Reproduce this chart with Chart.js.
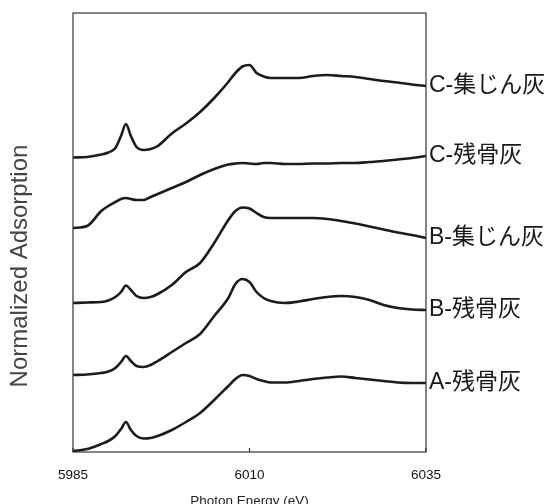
<!DOCTYPE html>
<html lang="ja">
<head>
<meta charset="UTF-8">
<title>XANES</title>
<script src="https://cdn.jsdelivr.net/npm/chart.js"></script>
<style>
  html, body { margin: 0; padding: 0; background: #fff; }
  #wrap { width: 551px; height: 504px; }
</style>
</head>
<body>
<div id="wrap"><canvas id="grafico"></canvas></div>
<script>
// energia (eV)
const energy = [5985, 5987, 5989, 5990, 5991, 5991.8, 5992.5, 5993.2, 5994, 5995, 5996, 5997, 5999, 6001, 6003, 6005, 6007, 6008, 6009, 6010, 6011, 6012, 6013, 6015, 6017, 6019, 6021, 6023, 6025, 6027, 6029, 6031, 6033, 6035];

// espectros com deslocamento vertical (unidades arbitrárias)
const cDust = [2.945, 2.95, 2.975, 2.995, 3.04, 3.16, 3.28, 3.16, 3.05, 3.02, 3.03, 3.06, 3.185, 3.285, 3.40, 3.54, 3.70, 3.79, 3.855, 3.87, 3.79, 3.755, 3.74, 3.74, 3.74, 3.76, 3.77, 3.76, 3.75, 3.73, 3.71, 3.695, 3.675, 3.66];
const cBone = [2.24, 2.26, 2.41, 2.46, 2.50, 2.53, 2.54, 2.53, 2.52, 2.52, 2.55, 2.58, 2.64, 2.70, 2.77, 2.83, 2.875, 2.885, 2.89, 2.885, 2.88, 2.89, 2.89, 2.88, 2.88, 2.885, 2.885, 2.89, 2.89, 2.90, 2.91, 2.925, 2.94, 2.96];
const bDust = [1.49, 1.495, 1.50, 1.515, 1.55, 1.60, 1.665, 1.62, 1.56, 1.54, 1.55, 1.58, 1.67, 1.80, 1.89, 2.09, 2.32, 2.41, 2.445, 2.435, 2.39, 2.35, 2.34, 2.34, 2.34, 2.34, 2.33, 2.31, 2.285, 2.255, 2.225, 2.195, 2.17, 2.14];
const bBone = [0.77, 0.775, 0.79, 0.805, 0.84, 0.90, 0.96, 0.91, 0.86, 0.85, 0.87, 0.91, 1.00, 1.09, 1.18, 1.36, 1.54, 1.68, 1.73, 1.70, 1.60, 1.54, 1.51, 1.49, 1.505, 1.53, 1.55, 1.56, 1.55, 1.52, 1.47, 1.44, 1.425, 1.42];
const aBone = [0.01, 0.03, 0.08, 0.11, 0.16, 0.23, 0.30, 0.22, 0.16, 0.135, 0.14, 0.16, 0.22, 0.30, 0.39, 0.52, 0.66, 0.73, 0.77, 0.76, 0.73, 0.71, 0.695, 0.695, 0.71, 0.73, 0.745, 0.755, 0.74, 0.725, 0.71, 0.695, 0.69, 0.69];

const seriesLabels = ['C-集じん灰', 'C-残骨灰', 'B-集じん灰', 'B-残骨灰', 'A-残骨灰'];
const seriesValues = [cDust, cBone, bDust, bBone, aBone];
const xTicks = [5985, 6010, 6035];

const latinFont = '"Liberation Sans", Arial, sans-serif';
const jpFont = '"Liberation Sans", "Noto Sans CJK JP", sans-serif';

// moldura, marca interna e rótulos das curvas
const extras = {
    id: 'extras',
    afterDatasetsDraw(chart) {
        const { ctx, chartArea: a, scales } = chart;
        ctx.save();
        ctx.strokeStyle = '#333';
        ctx.lineWidth = 1.2;
        ctx.strokeRect(a.left, a.top, a.right - a.left, a.bottom - a.top);

        xTicks.forEach(v => {
            const px = scales.x.getPixelForValue(v);
            ctx.beginPath();
            ctx.moveTo(px, a.bottom);
            ctx.lineTo(px, a.bottom - 4);
            ctx.stroke();
        });

        ctx.fillStyle = '#1a1a1a';
        ctx.font = '23px ' + jpFont;
        ctx.textAlign = 'left';
        ctx.textBaseline = 'middle';
        seriesLabels.forEach((txt, i) => {
            const pts = chart.getDatasetMeta(i).data;
            const last = pts[pts.length - 1];
            ctx.fillText(txt, a.right + 3, last.y);
        });

        ctx.fillStyle = '#444';
        ctx.font = '24px ' + latinFont;
        ctx.translate(20, 266);
        ctx.rotate(-Math.PI / 2);
        ctx.textAlign = 'center';
        ctx.fillText('Normalized Adsorption', 0, 0);
        ctx.restore();
    }
};

new Chart(document.getElementById('grafico'), {
    type: 'line',
    data: {
        datasets: seriesValues.map((vals, i) => ({
            label: seriesLabels[i],
            data: energy.map((e, j) => ({ x: e, y: vals[j] })),
            borderColor: '#1c1c1c',
            borderWidth: 2.6,
            pointRadius: 0,
            cubicInterpolationMode: 'monotone',
            fill: false
        }))
    },
    options: {
        responsive: true,
        maintainAspectRatio: false,
        animation: false,
        layout: { padding: { left: 0, right: 125, top: 13, bottom: 0 } },
        plugins: {
            legend: { display: false },
            tooltip: { enabled: false }
        },
        scales: {
            x: {
                type: 'linear',
                min: 5985,
                max: 6035,
                afterBuildTicks: s => { s.ticks = xTicks.map(v => ({ value: v })); },
                afterFit: s => { s.height = 52; },
                grid: { display: false },
                border: { display: false },
                ticks: {
                    padding: 7,
                    maxRotation: 0,
                    color: '#111',
                    font: { family: latinFont, size: 13.5 },
                    callback: v => String(v)
                },
                title: {
                    display: true,
                    text: 'Photon Energy (eV)',
                    color: '#222',
                    padding: { top: 0, bottom: -5 },
                    font: { family: latinFont, size: 13.5 }
                }
            },
            y: {
                min: 0,
                max: 4.39,
                afterFit: s => { s.width = 73; },
                grid: { display: false },
                border: { display: false },
                ticks: { display: false }
            }
        }
    },
    plugins: [extras]
});
</script>
</body>
</html>
